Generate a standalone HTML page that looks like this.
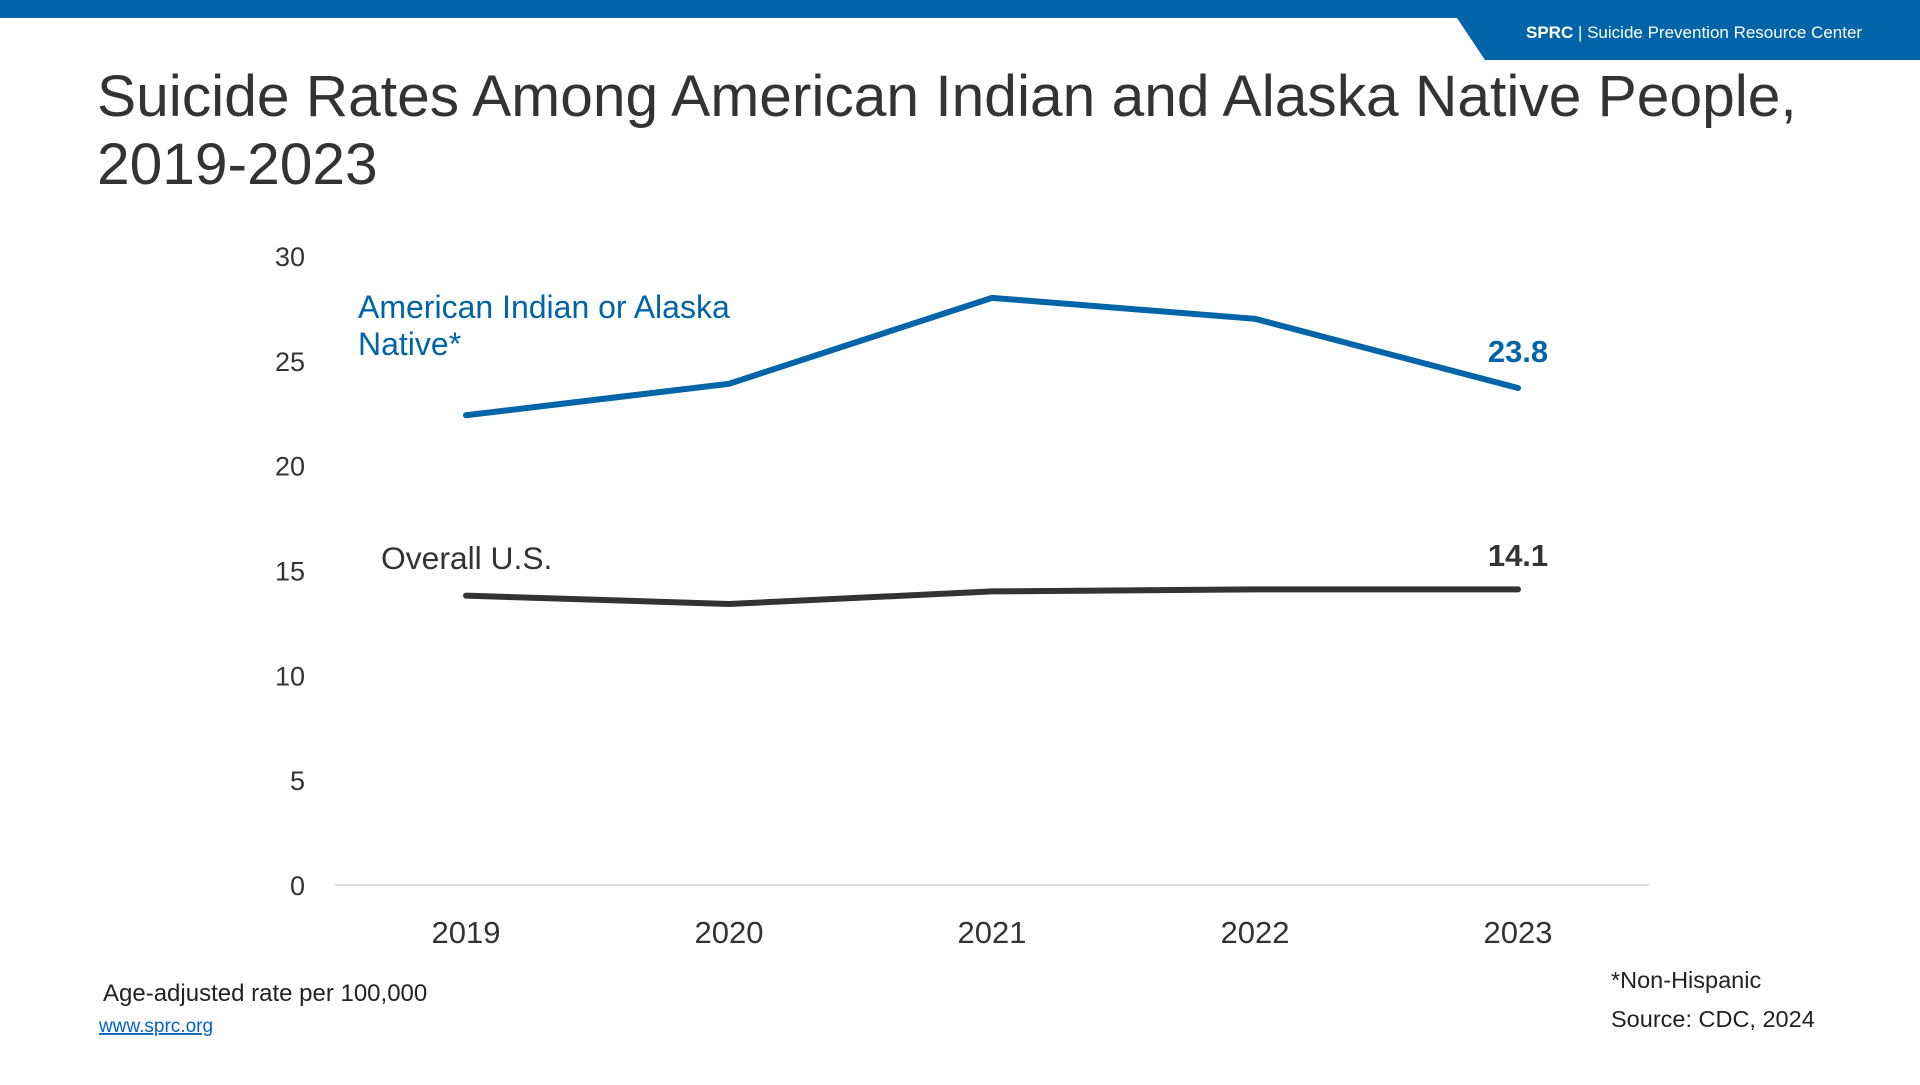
<!DOCTYPE html>
<html><head><meta charset="utf-8"><style>
html,body{margin:0;padding:0;background:#fff;}
body{width:1920px;height:1080px;overflow:hidden;position:relative;font-family:"Liberation Sans",Arial,sans-serif;}
</style></head><body>
<svg width="1920" height="1080" viewBox="0 0 1920 1080" xmlns="http://www.w3.org/2000/svg">
  <rect x="0" y="0" width="1920" height="18" fill="#0064a8"/>
  <polygon points="1457,18 1920,18 1920,60 1485,60" fill="#0064a8"/>
  <text x="1526" y="38" font-size="17" fill="#fff"><tspan font-weight="bold">SPRC</tspan>  |  Suicide Prevention Resource Center</text>
  <text x="97" y="116" font-size="58.7" fill="#333">Suicide Rates Among American Indian and Alaska Native People,</text>
  <text x="97" y="184" font-size="58.7" fill="#333">2019-2023</text>
  <g id="yaxis"></g>
  <g id="xaxis"></g>
  <line x1="335" y1="885" x2="1649" y2="885" stroke="#d0d0d0" stroke-width="1.5"/>
  <g id="series"></g>
  <text x="358" y="318" font-size="32" fill="#0064a8">American Indian or Alaska</text>
  <text x="358" y="355" font-size="32" fill="#0064a8">Native*</text>
  <text x="381" y="569" font-size="31.8" fill="#333">Overall U.S.</text>
  <text x="103" y="1001" font-size="24" fill="#222">Age-adjusted rate per 100,000</text>
  <text x="99" y="1032" font-size="19" fill="#0563c1" text-decoration="underline">www.sprc.org</text>
  <text x="1611" y="988" font-size="23.5" fill="#222">*Non-Hispanic</text>
  <text x="1611" y="1027" font-size="23.5" fill="#222">Source: CDC, 2024</text>
</svg>
<script>
const years = ["2019","2020","2021","2022","2023"];
const aianValues = [22.4, 23.9, 28.0, 27.0, 23.7];
const usValues = [13.8, 13.4, 14.0, 14.1, 14.1];
const yTicks = [0,5,10,15,20,25,30];
const NS="http://www.w3.org/2000/svg";
const x0=466, dx=263, yZero=885, yPer=20.97;
function xs(i){return x0+i*dx;}
function ys(v){return yZero-v*yPer;}
const ya=document.getElementById('yaxis');
yTicks.forEach(t=>{
  const el=document.createElementNS(NS,'text');
  el.setAttribute('x',305);el.setAttribute('y',ys(t)+10);
  el.setAttribute('text-anchor','end');el.setAttribute('font-size','27');el.setAttribute('fill','#333');
  el.textContent=t;
  
  
  ya.appendChild(el);
});
const xa=document.getElementById('xaxis');
years.forEach((yr,i)=>{
  const el=document.createElementNS(NS,'text');
  el.setAttribute('x',xs(i));el.setAttribute('y',943);
  el.setAttribute('text-anchor','middle');el.setAttribute('font-size','31');el.setAttribute('fill','#333');
  el.textContent=yr;
  
  
  xa.appendChild(el);
});
const sg=document.getElementById('series');
function drawLine(vals,color,name){
  const p=document.createElementNS(NS,'polyline');
  p.setAttribute('points',vals.map((v,i)=>xs(i)+','+ys(v)).join(' '));
  p.setAttribute('fill','none');p.setAttribute('stroke',color);p.setAttribute('stroke-width','6');
  p.setAttribute('stroke-linecap','round');p.setAttribute('stroke-linejoin','round');
  
  
  sg.appendChild(p);
  const last=vals.length-1;
  const t=document.createElementNS(NS,'text');
  t.setAttribute('x',xs(last));t.setAttribute('y',name==='aian-line'?362:566);
  t.setAttribute('text-anchor','middle');t.setAttribute('font-size','31');t.setAttribute('font-weight','bold');t.setAttribute('fill',color);
  t.textContent=(name==='aian-line'?23.8:vals[last]).toFixed(1);
  
  
  sg.appendChild(t);
}
drawLine(aianValues,'#0064a8','aian-line');
drawLine(usValues,'#333333','us-line');
</script>
</body></html>
